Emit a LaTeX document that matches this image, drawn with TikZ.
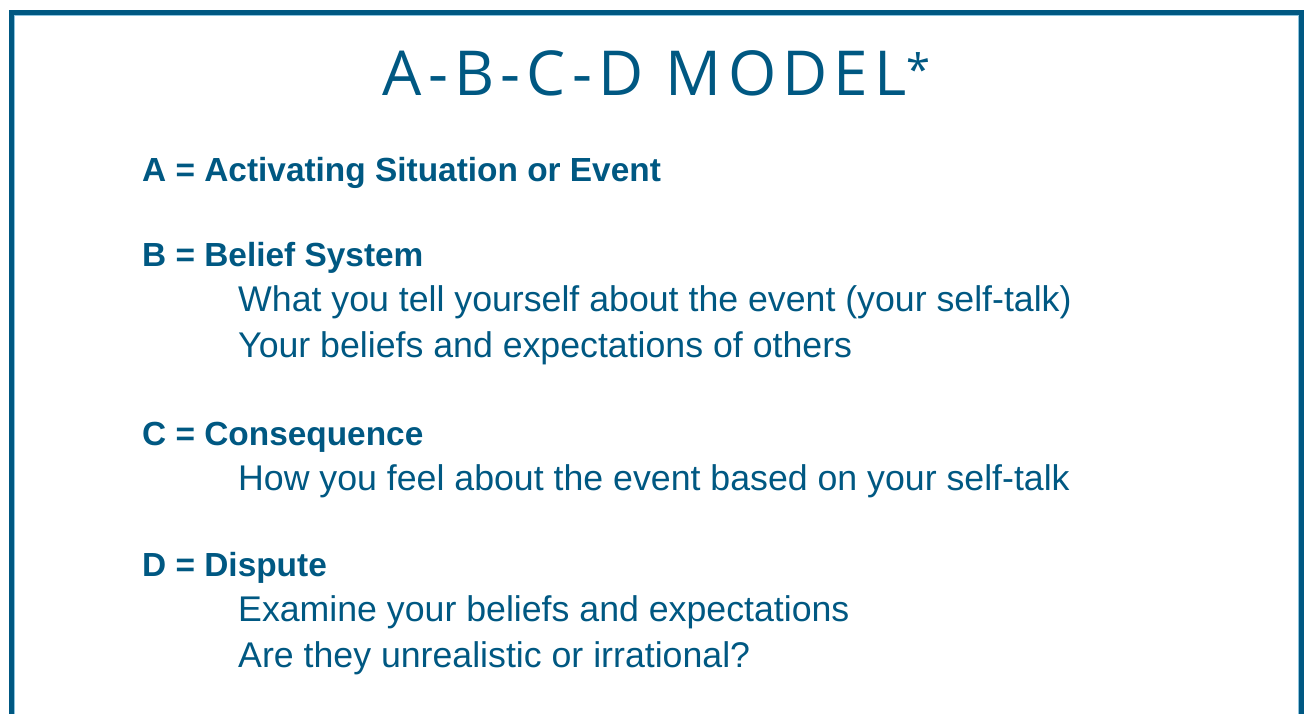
\documentclass[tikz,border=0pt]{standalone}
\usepackage{fontspec}
\setmainfont{Liberation Sans}
\newfontfamily\titlefont[LetterSpace=10]{Open Sans}
\usetikzlibrary{positioning}
\definecolor{abcblue}{RGB}{0,88,130}
\definecolor{framelight}{RGB}{140,195,222}

\begin{document}
\begin{tikzpicture}[x=1pt, y=-1pt,
  heading/.style={anchor=base west, inner sep=0pt, text=abcblue, font=\fontsize{33.4}{33.4}\selectfont\bfseries},
  item/.style={anchor=base west, inner sep=0pt, text=abcblue, font=\fontsize{35.7}{35.7}\selectfont}]

  \useasboundingbox (0,0) rectangle (1304,713);

  % Frame
  \coordinate (FL) at (11.5,740);
  \coordinate (FR) at (1301.5,740);
  \draw[abcblue, line width=5pt] (FL) |- (656,12.5) -| (FR);
  \draw[framelight, line width=1pt] (14.5,740) |- (656,15.5) -| (1298.5,740);

  % Title
  \node[anchor=base, inner sep=0pt, text=abcblue, font=\fontsize{62}{62}\selectfont\titlefont] (T) at (657,95) {A-B-C-D MODEL\textsuperscript{*}};

  % Headings
  \node[heading] (A) at (142,181) {A = Activating Situation or Event};
  \node[heading] (B) at (142,266) {B = Belief System};
  \node[heading] (C) at (142,445) {C = Consequence};
  \node[heading] (D) at (142,576) {D = Dispute};

  % Items
  \node[item] (B1) at (238,311) {What you tell yourself about the event (your self-talk)};
  \node[item] (B2) at (238,357) {Your beliefs and expectations of others};
  \node[item] (C1) at (238,490) {How you feel about the event based on your self-talk};
  \node[item] (D1) at (238,621) {Examine your beliefs and expectations};
  \node[item] (D2) at (238,667) {Are they unrealistic or irrational?};

\end{tikzpicture}
\end{document}
